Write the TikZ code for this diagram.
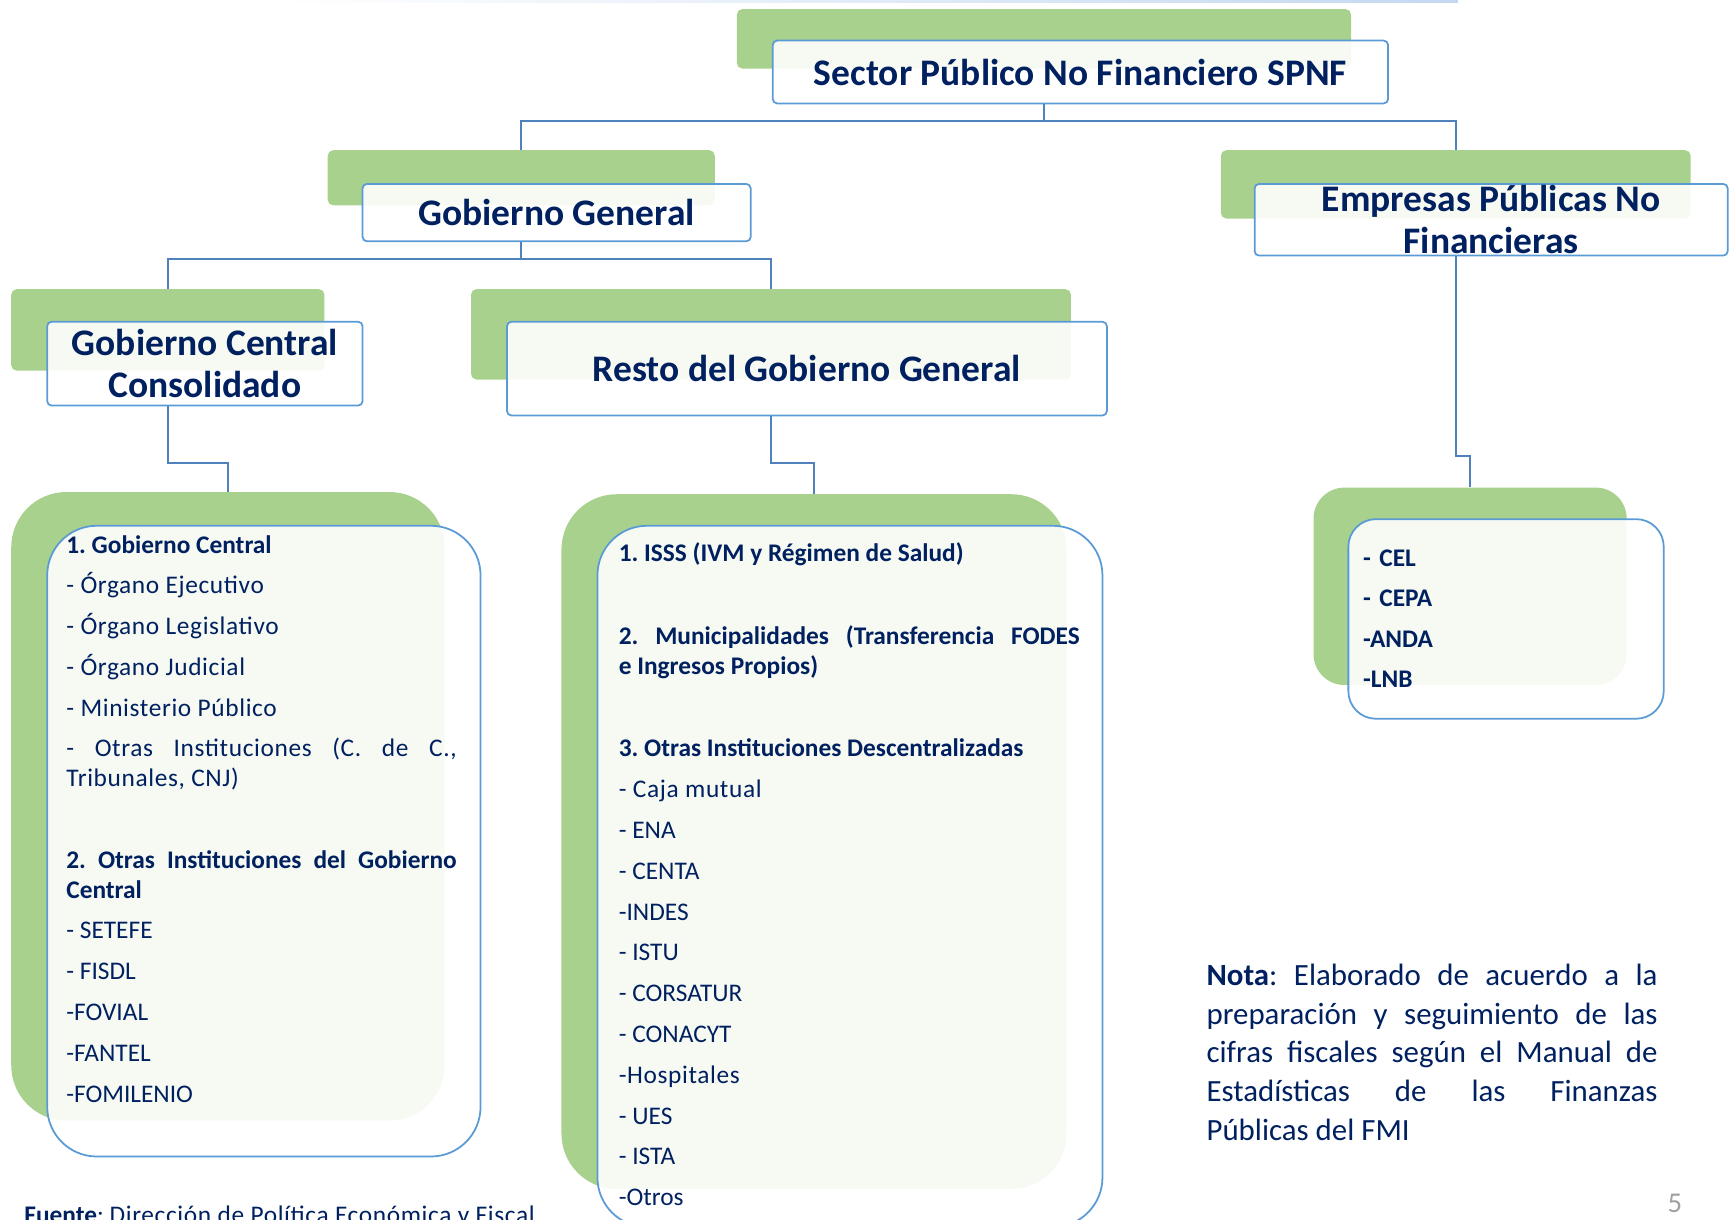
\documentclass[tikz,border=0pt]{standalone}
\usepackage{fontspec}
\setmainfont{Carlito}
\newfontfamily\spacedfont{Carlito}[LetterSpace=2.5]
\usepackage{xcolor}
\setlength{\parindent}{0pt}
\frenchspacing
\definecolor{navy}{HTML}{002060}
\definecolor{leafgreen}{HTML}{A9D18E}
\definecolor{edgeblue}{HTML}{5B9BD5}
\definecolor{linkblue}{HTML}{4F81BD}
\definecolor{pagegray}{HTML}{A0A0A0}
\newcommand{\listsetup}{\setlength{\parskip}{10pt}\tolerance=9999\relax}

\begin{document}
\begin{tikzpicture}[x=1pt, y=-1pt,
    greenbg/.style={fill=leafgreen, rounded corners=#1, anchor=north west, inner sep=0pt},
    headbox/.style={draw=edgeblue, line width=1.6pt, fill=white, fill opacity=0.9, text opacity=1,
      rounded corners=4pt, anchor=north west, inner sep=0pt, align=center, text=navy,
      font=\fontsize{34}{38}\selectfont\bfseries},
    listbox/.style={draw=edgeblue, line width=1.6pt, fill=white, fill opacity=0.9,
      rounded corners=#1, anchor=north west, inner sep=0pt},
    listtext/.style={anchor=base west, inner sep=0pt, text=navy, align=justify,
      font=\fontsize{23}{27}\selectfont},
    link/.style={draw=linkblue, line width=1.8pt}]
  \useasboundingbox (0,0) rectangle (1568,1106);
  \shade[left color=white, right color={rgb,255:red,196;green,216;blue,240}] (250,0) rectangle (1322,2.5);

  \node[greenbg=5pt, minimum width=557, minimum height=54] (spnfG) at (668,8) {};
  \node[headbox, minimum width=558, minimum height=57] (spnf) at (700,36) {Sector Público No Financiero SPNF};

  \node[greenbg=5pt, minimum width=351, minimum height=50] (genG) at (297,136) {};
  \node[headbox, minimum width=352, minimum height=52] (gen) at (328,166) {Gobierno General};

  \node[greenbg=5pt, minimum width=426, minimum height=62] (empG) at (1107,136) {};
  \node[headbox, minimum width=429, minimum height=65] (emp) at (1137,166) {Empresas Públicas No\\Financieras};

  \node[greenbg=5pt, minimum width=284, minimum height=74] (centG) at (10,262) {};
  \node[headbox, minimum width=286, minimum height=76] (cent) at (42,291) {Gobierno Central\\Consolidado};

  \node[greenbg=5pt, minimum width=544, minimum height=82] (restoG) at (427,262) {};
  \node[headbox, minimum width=544, minimum height=85] (resto) at (459,291) {Resto del Gobierno General};

  \node[greenbg=50pt, minimum width=393, minimum height=570] (listaG) at (10,446) {};
  \node[listbox=45pt, minimum width=393, minimum height=572] (lista) at (42,476) {};
  \node[greenbg=50pt, minimum width=458, minimum height=630] (listbG) at (509,448) {};
  \node[listbox=45pt, minimum width=458, minimum height=636] (listb) at (541,476) {};
  \node[greenbg=28pt, minimum width=284, minimum height=179] (listcG) at (1191,442) {};
  \node[listbox=25pt, minimum width=286, minimum height=181] (listc) at (1222,470) {};

  \node[listtext, text width=354] (itemsa) at (60,501.5) {\listsetup
    \textbf{1. Gobierno Central}\par
    {\spacedfont - Órgano Ejecutivo}\par
    {\spacedfont - Órgano Legislativo}\par
    {\spacedfont - Órgano Judicial}\par
    {\spacedfont - Ministerio Público}\par
    {\spacedfont - Otras Instituciones (C. de C.,\linebreak Tribunales, CNJ)}\par
    \vspace{37pt}
    \textbf{2. Otras Instituciones del Gobierno\linebreak Central}\par
    - SETEFE\par
    - FISDL\par
    -FOVIAL\par
    -FANTEL\par
    -FOMILENIO};

  \node[listtext, text width=418] (itemsb) at (561,509.5) {\listsetup
    \textbf{1. ISSS (IVM y Régimen de Salud)}\par
    \vspace{38pt}
    \textbf{2. Municipalidades (Transferencia FODES\linebreak e Ingresos Propios)}\par
    \vspace{38pt}
    \textbf{3. Otras Instituciones Descentralizadas}\par
    {\spacedfont - Caja mutual}\par
    - ENA\par
    - CENTA\par
    -INDES\par
    - ISTU\par
    - CORSATUR\par
    - CONACYT\par
    {\spacedfont -Hospitales}\par
    - UES\par
    - ISTA\par
    -Otros};

  \node[anchor=base west, inner sep=0pt, text=navy, text width=200, align=left,
    font=\fontsize{23}{36.7}\selectfont\bfseries] (itemsc) at (1236,513.5)
    {- CEL\\- CEPA\\-ANDA\\-LNB};

  \node[listtext, text width=409, font=\fontsize{28}{35}\selectfont] (nota) at (1094,894) {\listsetup
    \textbf{Nota}: Elaborado de acuerdo a la\linebreak
    preparación y seguimiento de las\linebreak
    cifras fiscales según el Manual de\linebreak
    Estadísticas de las Finanzas\linebreak
    Públicas del FMI};

  \node[anchor=base west, inner sep=0pt, text=navy, font=\fontsize{23}{27}\selectfont] (fuente) at (22,1110)
    {\textbf{Fuente}: {\spacedfont Dirección de Política Económica y Fiscal}};
  \node[text=pagegray, font=\fontsize{26}{30}\selectfont] (pagina) at (1519,1091) {5};

  \draw[link] (spnfG.center |- spnf.south) -- ++(0,15) coordinate (busa);
  \draw[link] (busa) -| (genG.north);
  \draw[link] (busa) -| (empG.north);
  \draw[link] (genG.center |- gen.south) -- ++(0,15) coordinate (busb);
  \draw[link] (busb) -| (centG.north);
  \draw[link] (busb) -| (restoG.north);
  \draw[link] (centG.center |- cent.south) -- ++(0,51) -| (listaG.north);
  \draw[link] (restoG.center |- resto.south) -- ++(0,42) -| (listbG.north);
  \draw[link] (empG.center |- emp.south) -- ++(0,181) -| (listcG.north);
\end{tikzpicture}
\end{document}
